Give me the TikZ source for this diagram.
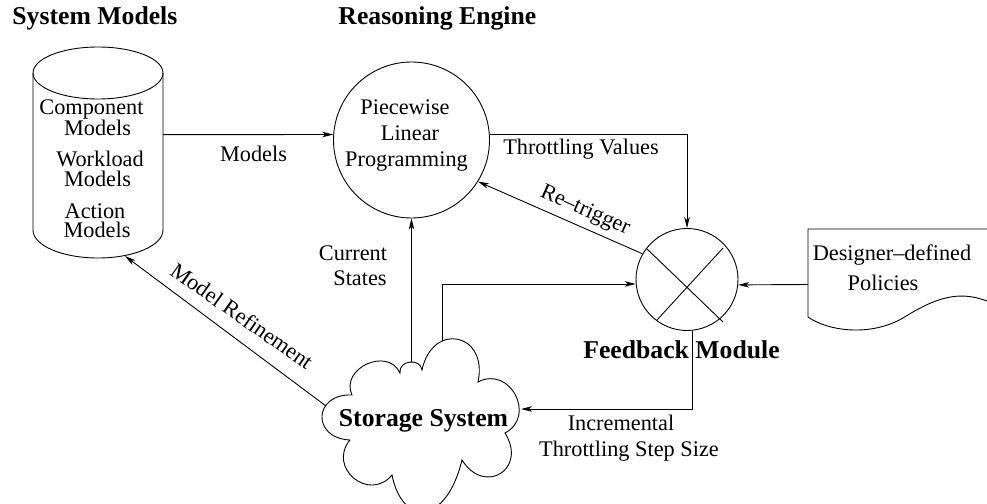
\documentclass[tikz,border=0pt]{standalone}
\usepackage{fontspec}
\setmainfont{Liberation Serif}
\usetikzlibrary{arrows.meta,calc}
\begin{document}
\begin{tikzpicture}[x=1pt,y=-1pt,
  line width=0.9pt,
  arr/.style={-{Stealth[length=11pt,width=5.5pt,inset=3pt]}},
  lbl/.style={inner sep=0pt, anchor=base, font=\fontsize{22.3}{24}\selectfont},
  hdr/.style={inner sep=0pt, anchor=base west, font=\fontsize{25.7}{28}\selectfont\bfseries},
  boldlbl/.style={inner sep=0pt, anchor=base, font=\fontsize{25.7}{28}\selectfont\bfseries},
  ring/.style={draw, circle, inner sep=0pt},
  puff/.style={bend left=90, looseness=#1},
]
\useasboundingbox (0,0) rectangle (987,503);

% headers
\node[hdr] (hsm) at (12,25) {System Models};
\node[hdr] (hre) at (338,25) {Reasoning Engine};

% cylinder (system models)
\draw (98,73) ellipse [x radius=65pt, y radius=26pt];
\draw (33,73) -- (33,230) .. controls (33,245.5) and (62.1,258) .. (98,258)
      .. controls (133.9,258) and (163,245.5) .. (163,230) -- (163,73);
\coordinate (dbR) at (163,134.6);
\coordinate (dbB) at (125,256);
\node[lbl] (m1) at (91.5,114.5) {Component};
\node[lbl] (m2) at (97.5,135) {Models};
\node[lbl] (m3) at (100,166.7) {Workload};
\node[lbl] (m4) at (97.5,186.7) {Models};
\node[lbl] (m5) at (95,218) {Action};
\node[lbl] (m6) at (97,237) {Models};

% reasoning engine circle
\node[ring, minimum size=156pt] (plp) at (411.5,140) {};
\node[lbl] (p1) at (405,114) {Piecewise};
\node[lbl] (p2) at (410,140.5) {Linear};
\node[lbl] (p3) at (406.5,166) {Programming};

% feedback module
\node[ring, minimum size=102pt] (fb) at (687,279.5) {};
\draw ($(fb)+(-41,-31.5)$) -- ($(fb)+(36,42.5)$);
\draw ($(fb)+(36,-31.5)$) -- ($(fb)+(-30,40.5)$);
\node[boldlbl] (fbl) at (681.5,358) {Feedback Module};

% designer-defined policies document
\draw (987,229) -- (808,229) -- (808,317)
      .. controls (828,331) and (870,337) .. (903,318)
      .. controls (935,298) and (958,290) .. (987,301);
\coordinate (docW) at (808,284.5);
\node[lbl] (d1) at (892,260) {Designer–defined};
\node[lbl] (d2) at (883,290) {Policies};

% storage system cloud
\coordinate (cA) at (350,440);
\coordinate (cB) at (352,395);
\coordinate (cC) at (400,373);
\coordinate (cD) at (422,370);
\coordinate (cE) at (478,382);
\coordinate (cF) at (505,433);
\coordinate (cG) at (462,460);
\coordinate (cH) at (392,475);
\draw (cA) to[puff=2.2] (cB) to[puff=1.42] (cC) to[puff=1.46] (cD)
      to[puff=2.24] (cE) to[puff=1.6] (cF) to[puff=2.14] (cG)
      .. controls (446,526) and (402,526) .. (cH) to[puff=1.68] (cA);
\node[boldlbl] (stt) at (423.5,426) {Storage System};
\coordinate (cTop1) at (411.5,362);
\coordinate (cTop2) at (442,341);
\coordinate (cLeft) at (326,406);
\coordinate (cRight) at (521,409);

% connectors
\draw[arr] (dbR) -- (plp.176);
\node[lbl] (lm) at (253.5,161) {Models};

\draw[arr] (plp.4) -| (fb.north);
\node[lbl] (ltv) at (581,154.3) {Throttling Values};

\draw[arr] (fb.150.6) -- (plp.328.5);
\node[lbl, anchor=center, rotate=-24] (lrt) at (585,211) {Re–trigger};

\draw[arr] (cTop1) -- (plp.south);
\node[lbl] (lc1) at (353,260) {Current};
\node[lbl] (lc2) at (360,285) {States};

\draw[arr] (cTop2) |- (fb.185.6);

\draw[arr] (docW) -- (fb.354.4);

\draw[arr] (fb.276.8) |- (cRight);
\node[lbl] (li1) at (621,430.7) {Incremental};
\node[lbl] (li2) at (629,456) {Throttling Step Size};

\draw[arr] (cLeft) -- (dbB);
\node[lbl, anchor=center, rotate=-35] (lmr) at (242,316) {Model Refinement};
\end{tikzpicture}
\end{document}
